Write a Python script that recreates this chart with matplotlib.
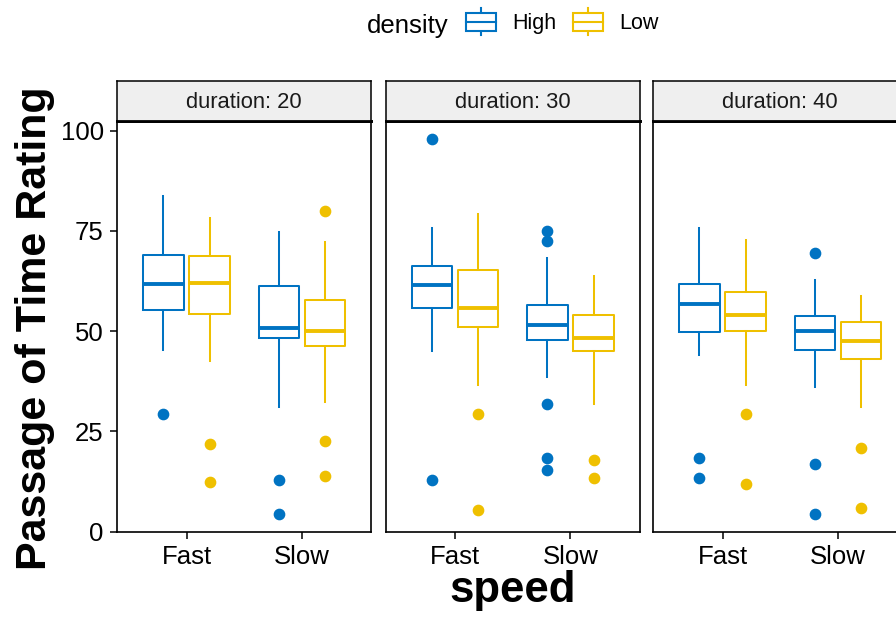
import matplotlib
matplotlib.use("Agg")
import matplotlib.pyplot as plt
from matplotlib.legend_handler import HandlerBase
from matplotlib.lines import Line2D
from matplotlib.patches import Rectangle


durations = [20, 30, 40]
speeds = ["Fast", "Slow"]
densities = ["High", "Low"]

# [whislo, q1, med, q3, whishi] per duration, Fast then Slow
high_stats = [
    [[45.4, 55.4, 61.75, 69.1, 83.75], [31.0, 48.3, 50.9, 61.3, 74.75]],
    [[45.1, 55.8, 61.5, 66.3, 75.75], [38.5, 47.9, 51.5, 56.5, 68.3]],
    [[44.0, 49.9, 56.75, 61.7, 75.8], [36.0, 45.4, 50.1, 53.75, 62.7]],
]
low_stats = [
    [[42.6, 54.4, 62.0, 68.75, 78.3], [32.3, 46.25, 50.0, 57.75, 72.25]],
    [[36.5, 51.1, 55.7, 65.3, 79.3], [31.9, 45.1, 48.4, 54.0, 63.8]],
    [[36.5, 50.0, 54.0, 59.75, 72.8], [31.1, 43.1, 47.6, 52.2, 58.8]],
]
high_fliers = [
    [[29.4], [12.9, 4.4]],
    [[98.0, 12.9], [75.0, 72.4, 31.9, 18.4, 15.4]],
    [[18.4, 13.4], [69.4, 17.0, 4.4]],
]
low_fliers = [
    [[21.9, 12.4], [80.0, 22.5, 13.9]],
    [[29.4, 5.4], [17.9, 13.4]],
    [[29.4, 11.9], [20.9, 5.9]],
]

colors = {"High": "#0073C2", "Low": "#EFC000"}
offsets = {"High": -0.2, "Low": 0.2}

plt.rcParams['font.family'] = ['Liberation Sans', 'DejaVu Sans']

W, H = 896, 617
fig = plt.figure(figsize=(W / 100, H / 100), dpi=100)

panel_left = [117.3, 385.7, 653.3]
panel_w = 254.0
panel_top, panel_bot = 121.0, 531.7
strip_top = 81.0


def make_stats(vals, fl):
    return {"whislo": vals[0], "q1": vals[1], "med": vals[2],
            "q3": vals[3], "whishi": vals[4], "fliers": fl}


for i, dur in enumerate(durations):
    ax = fig.add_axes([panel_left[i] / W, 1 - panel_bot / H,
                       panel_w / W, (panel_bot - panel_top) / H])
    for dens, st, fl in [("High", high_stats, high_fliers), ("Low", low_stats, low_fliers)]:
        c = colors[dens]
        stats = [make_stats(st[i][j], fl[i][j]) for j in range(len(speeds))]
        pos = [j + 1 + offsets[dens] for j in range(len(speeds))]
        ax.bxp(stats, positions=pos, widths=0.35, showcaps=False, patch_artist=False,
               boxprops=dict(color=c, linewidth=1.45),
               whiskerprops=dict(color=c, linewidth=1.45),
               medianprops=dict(color=c, linewidth=2.8, solid_capstyle='butt'),
               flierprops=dict(marker='o', markerfacecolor=c, markeredgecolor=c,
                               markersize=7.4, linestyle='none'),
               manage_ticks=False)
    ax.set_xlim(0.4, 2.6)
    ax.set_ylim(0, 102.4)
    ax.set_xticks([1, 2])
    ax.set_xticklabels(speeds)
    ax.set_yticks([0, 25, 50, 75, 100])
    ax.tick_params(axis='both', length=4.8, width=1.1, color='black',
                   labelsize=18.5, labelcolor='black', pad=5)
    if i > 0:
        ax.tick_params(axis='y', left=False, labelleft=False)
    for sp in ax.spines.values():
        sp.set_color('black')
        sp.set_linewidth(1.2)
    ax.spines['top'].set_linewidth(2.0)

    # facet strip
    sax = fig.add_axes([panel_left[i] / W, 1 - panel_top / H,
                        panel_w / W, (panel_top - strip_top) / H])
    sax.set_facecolor('#EFEFEF')
    sax.set_xticks([])
    sax.set_yticks([])
    for sp in sax.spines.values():
        sp.set_color('black')
        sp.set_linewidth(1.1)
    sax.spines['bottom'].set_linewidth(2.0)
    sax.text(0.5, 0.46, "duration: %d" % dur, ha='center', va='center',
             fontsize=15.8, color='#1A1A1A', transform=sax.transAxes)

fig.text(35 / W, 1 - 328 / H, "Passage of Time Rating", rotation=90,
         ha='center', va='center', fontsize=31, fontweight='bold')
fig.text(513 / W, 1 - 602 / H, "speed", ha='center', va='baseline',
         fontsize=31.5, fontweight='bold')


class BoxKey(HandlerBase):
    def create_artists(self, legend, orig_handle, xdescent, ydescent,
                       width, height, fontsize, trans):
        c = orig_handle.get_color()
        x0, y0 = -xdescent, -ydescent
        cx = x0 + width / 2
        wl = Line2D([cx, cx], [y0, y0 + height], color=c, lw=1.5, transform=trans)
        box = Rectangle((x0, y0 + 0.17 * height), width, 0.66 * height,
                        facecolor='white', edgecolor=c, lw=1.5, transform=trans)
        md = Line2D([x0, x0 + width], [y0 + 0.5 * height] * 2, color=c, lw=1.5,
                    transform=trans)
        return [wl, box, md]


handles = [Line2D([], [], color=colors[d]) for d in densities]
fig.text(366.7 / W, 1 - 33.3 / H, "density", ha='left', va='baseline', fontsize=18.5)
fig.legend(handles, densities, loc='center left', bbox_to_anchor=(466 / W, 1 - 21.7 / H),
           ncol=2, frameon=False, fontsize=15.5, borderpad=0, borderaxespad=0,
           handlelength=1.4, handleheight=1.55, handletextpad=0.75, columnspacing=0.75,
           handler_map={Line2D: BoxKey()})

fig.savefig("out.png", dpi=100)
